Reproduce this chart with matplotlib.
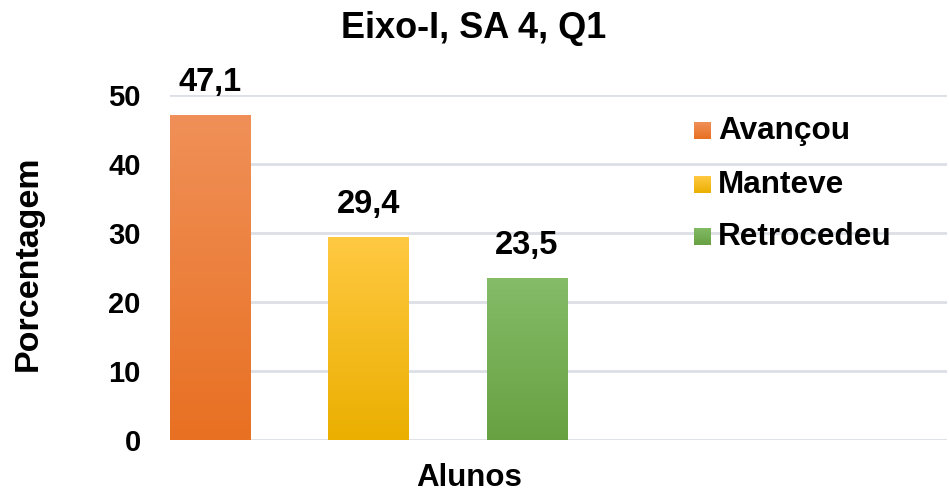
import matplotlib
matplotlib.use("Agg")
import matplotlib.pyplot as plt
import matplotlib.patheffects as pe
import numpy as np
from matplotlib.colors import LinearSegmentedColormap

plt.rcParams['font.family'] = ['Liberation Sans', 'DejaVu Sans']
plt.rcParams['font.weight'] = 'bold'

title = "Eixo-I, SA 4, Q1"
series = ["Avançou", "Manteve", "Retrocedeu"]
values = [47.1, 29.4, 23.5]
labels = ["47,1", "29,4", "23,5"]
yticks = [0, 10, 20, 30, 40, 50]
top_colors = ["#F09058", "#FFC942", "#84BC68"]
bot_colors = ["#E87022", "#EBAF00", "#68A142"]

fig = plt.figure(figsize=(9.49, 4.94), dpi=100)
ax = fig.add_axes([170/949, 1-440/494, (947-170)/949, (440-95)/494])

width = 0.508
xpos = np.arange(len(values))
bars = ax.bar(xpos, values, width=width, color=bot_colors, zorder=3)
grad = np.linspace(0, 1, 256).reshape(-1, 1)
for b, x, v, tc, bc in zip(bars, xpos, values, top_colors, bot_colors):
    cmap = LinearSegmentedColormap.from_list("g", [bc, tc])
    im = ax.imshow(grad, extent=(x - width/2, x + width/2, 0, v), origin='lower',
                   cmap=cmap, aspect='auto', zorder=4)
    im.set_clip_path(b)
bars[1].set_path_effects([pe.SimplePatchShadow(offset=(0, 0), shadow_rgbFace='#999999', alpha=0.5), pe.Normal()])

for x, v, t in zip(xpos, values, labels):
    ax.annotate(t, (x, v), xytext=(0, 12), textcoords='offset points',
                ha='center', va='bottom', fontsize=23.5, fontweight='bold',
                annotation_clip=False)

ax.set_xlim(-width/2, 4.654)
ax.set_ylim(0, 50)
ax.set_yticks(yticks)
ax.set_yticklabels([str(t) for t in yticks], fontsize=21, fontweight='bold')
ax.tick_params(axis='y', length=0, pad=21)
ax.set_xticks([])
ax.grid(axis='y', color='#DCE0E6', linewidth=2, zorder=0)
for s in ax.spines.values():
    s.set_visible(False)

fig.text(474, 494 - 28, title, transform=None, ha='center', va='center',
         fontsize=26, fontweight='bold')
fig.text(469, 494 - 486, "Alunos", transform=None, ha='center', va='baseline',
         fontsize=22.5, fontweight='bold')
fig.text(28, 494 - 263, "Porcentagem", transform=None, ha='center', va='center',
         rotation=90, fontsize=24.5, fontweight='bold')

# legend
ys = [131, 185, 237]
for name, tc, bc, yc in zip(series, top_colors, bot_colors, ys):
    lax = fig.add_axes([694/949, 1-(yc+8.5)/494, 17/949, 17/494])
    lax.imshow(grad, origin='lower', cmap=LinearSegmentedColormap.from_list("g", [bc, tc]),
               aspect='auto', extent=(0, 1, 0, 1))
    lax.axis('off')
    fig.text(718/949, 1-yc/494, name, ha='left', va='center', fontsize=22.7,
             fontweight='bold')

fig.savefig("out.png", dpi=100)
